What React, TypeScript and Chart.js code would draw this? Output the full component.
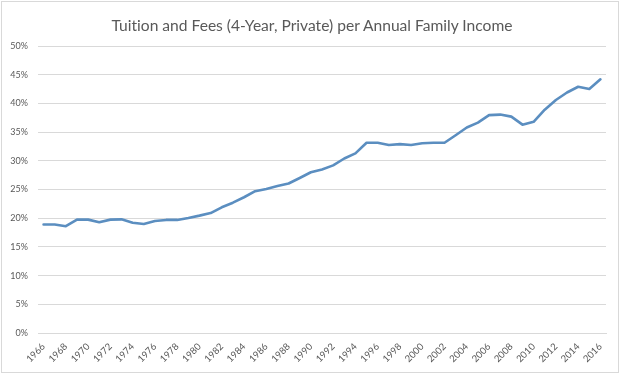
import React, { useEffect, useRef } from "react";
import { Chart, registerables } from "chart.js";

Chart.register(...registerables);

const years: string[] = [];
for (let y = 1966; y <= 2016; y++) years.push(String(y));

const shareOfIncome: number[] = [
  18.9, 18.9, 18.6, 19.75, 19.75, 19.3, 19.75, 19.8, 19.2, 19.0,
  19.5, 19.7, 19.7, 20.05, 20.45, 20.9, 21.9, 22.7, 23.65, 24.7,
  25.1, 25.6, 26.05, 27.0, 28.0, 28.5, 29.2, 30.4, 31.3, 33.15,
  33.15, 32.75, 32.9, 32.75, 33.05, 33.15, 33.15, 34.45, 35.8, 36.65,
  37.95, 38.05, 37.7, 36.3, 36.8, 38.9, 40.6, 41.9, 42.9, 42.5,
  44.2,
];

const yTicks: number[] = [0, 5, 10, 15, 20, 25, 30, 35, 40, 45, 50];

const titleText = "Tuition and Fees (4-Year, Private) per Annual Family Income";
const FONT = "Lato, 'Open Sans', 'Liberation Sans', sans-serif";

export default function App() {
  const ref = useRef<HTMLCanvasElement | null>(null);

  useEffect(() => {
    if (!ref.current) return;
    const chart = new Chart(ref.current, {
      type: "line",
      data: {
        labels: years,
        datasets: [
          {
            data: shareOfIncome,
            borderColor: "#5b8ec0",
            backgroundColor: "#5b8ec0",
            borderWidth: 2.6,
            pointRadius: 0,
            tension: 0,
            borderJoinStyle: "round",
            borderCapStyle: "round",
          },
        ],
      },
      options: {
        animation: false,
        responsive: false,
        maintainAspectRatio: false,
        layout: { padding: { left: 0, right: 18, top: 46, bottom: 0 } },
        plugins: {
          legend: { display: false },
          tooltip: { enabled: false },
          title: { display: false },
        },
        scales: {
          x: {
            type: "category",
            offset: true,
            grid: { display: false, drawTicks: false },
            border: { display: true, color: "#d9d9d9", width: 1 },
            afterFit: (s: any) => {
              s.height = 43;
            },
            ticks: {
              autoSkip: false,
              minRotation: 45,
              maxRotation: 45,
              padding: 8,
              color: "#595959",
              font: { family: FONT, size: 9.5 },
              callback: (_v: any, i: number) => (i % 2 === 0 ? years[i] : ""),
            },
          },
          y: {
            min: 0,
            max: 50,
            afterFit: (s: any) => {
              s.width = 38;
            },
            afterBuildTicks: (s: any) => {
              s.ticks = yTicks.map((v) => ({ value: v }));
            },
            grid: { color: "#d9d9d9", lineWidth: 1, drawTicks: false },
            border: { display: false },
            ticks: {
              padding: 10,
              color: "#595959",
              font: { family: FONT, size: 9 },
              callback: (v: any) => `${v}%`,
            },
          },
        },
      },
    });
    return () => chart.destroy();
  }, []);

  return (
    <div style={{ position: "fixed", left: 0, top: 0, width: 624, height: 376, background: "#fff" }}>
      <div
        style={{
          position: "absolute",
          left: 1,
          top: 1,
          width: 616,
          height: 370,
          border: "1px solid #d9d9d9",
        }}
      />
      <canvas ref={ref} width={624} height={376} style={{ position: "absolute", left: 0, top: 0 }} />
      <div
        style={{
          position: "absolute",
          left: 0,
          top: 15,
          width: 624,
          textAlign: "center",
          fontFamily: FONT,
          fontSize: 15.6,
          lineHeight: "20px",
          color: "#595959",
          whiteSpace: "nowrap",
          fontVariantLigatures: "none",
        }}
      >
        {titleText}
      </div>
    </div>
  );
}
